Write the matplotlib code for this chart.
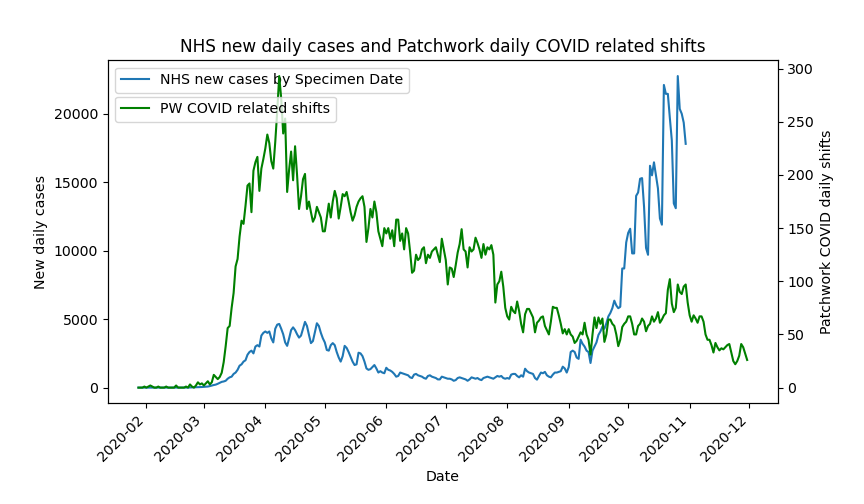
import matplotlib
matplotlib.use("Agg")
import matplotlib.pyplot as plt
import numpy as np
import pandas as pd

plt.rcParams["font.size"] = 10.15

# NHS new cases by specimen date, daily from 2020-01-28
nhs_start = "2020-01-28"
nhs_cases = (
    [0, 0, 2, 2]
    # Feb
    + [0, 1, 0, 2, 1, 0, 1, 2, 0, 1, 3, 2, 1, 5, 2, 3, 1, 2, 4, 3, 8, 5, 10, 12, 15, 20, 30, 40, 45]
    # Mar
    + [55, 60, 80, 110, 150, 190, 220, 280, 350, 420, 450, 500, 650, 750, 800, 1000, 1100, 1300,
       1600, 1700, 1900, 2000, 2400, 2600, 2700, 2500, 3000, 3100, 3000, 3800, 4000]
    # Apr
    + [4100, 4000, 4100, 3600, 3300, 4300, 4600, 4650, 4300, 3900, 3300, 3050, 3600, 4200, 4400,
       4200, 3900, 3650, 3800, 4300, 4800, 4500, 3850, 3250, 3400, 4050, 4700, 4500, 4000, 3600]
    # May
    + [3300, 2750, 2700, 3100, 3250, 3100, 2600, 2200, 1900, 2300, 3050, 2900, 2600, 2250, 1900,
       1650, 1700, 2550, 2500, 2300, 1900, 1400, 1300, 1350, 1500, 1650, 1400, 1100, 1200, 1100, 1050]
    # Jun
    + [1450, 1300, 1250, 1150, 1000, 800, 850, 1100, 1050, 1000, 950, 900, 750, 700, 950, 1000,
       900, 850, 800, 700, 650, 850, 900, 800, 750, 700, 600, 600, 800, 750]
    # Jul
    + [700, 650, 650, 600, 500, 550, 700, 750, 700, 650, 600, 500, 600, 750, 700, 650, 700, 600,
       550, 700, 750, 800, 750, 700, 650, 750, 850, 800, 850, 700, 650]
    # Aug
    + [700, 650, 950, 1000, 1000, 850, 750, 900, 800, 1380, 1200, 1100, 1050, 1000, 700, 580, 850,
       1100, 1050, 1150, 900, 800, 750, 950, 1100, 1100, 1150, 1200, 1530, 1400, 1100]
    # Sep
    + [1500, 2600, 2700, 2600, 2200, 2100, 3500, 3200, 3000, 2700, 2600, 1800, 2700, 3000, 3300,
       3850, 4100, 4450, 4300, 4700, 5200, 5450, 5800, 6350, 6000, 5800, 5900, 8700, 8700, 10600]
    # Oct
    + [11300, 11600, 9800, 9800, 14000, 14250, 15250, 15300, 13200, 10200, 9700, 16200, 15500,
       16450, 15500, 14550, 12350, 11900, 22100, 21450, 21450, 19700, 18050, 13450, 13100, 22750,
       20350, 20000, 19350, 17800]
)

# Patchwork COVID related shifts, daily from 2020-01-28
pw_start = "2020-01-28"
pw_shifts = (
    [0, 0, 0, 1]
    # Feb
    + [0, 1, 2, 1, 0, 0, 1, 0, 0, 0, 1, 0, 0, 0, 0, 2, 0, 0, 0, 0, 1, 0, 3, 1, 0, 2, 5, 3, 4]
    # Mar
    + [2, 4, 6, 3, 5, 12, 10, 8, 10, 14, 24, 39, 56, 58, 75, 89, 114, 121, 142, 157, 154, 171,
       190, 192, 165, 204, 212, 217, 185, 206, 215]
    # Apr
    + [225, 238, 230, 213, 206, 231, 260, 293, 272, 239, 253, 184, 205, 222, 195, 227, 200, 168,
       180, 196, 201, 168, 175, 165, 156, 160, 170, 165, 160, 147]
    # May
    + [147, 160, 173, 160, 175, 185, 178, 159, 170, 182, 180, 184, 175, 165, 157, 162, 170, 175,
       178, 180, 170, 137, 150, 168, 160, 175, 165, 147, 140, 133, 150]
    # Jun
    + [145, 150, 140, 148, 133, 158, 158, 138, 145, 130, 150, 145, 128, 108, 110, 125, 120, 122,
       130, 132, 117, 125, 122, 128, 130, 132, 125, 118, 140, 130]
    # Jul
    + [120, 97, 113, 112, 104, 115, 127, 135, 149, 130, 128, 113, 132, 128, 130, 141, 136, 130,
       122, 135, 125, 132, 130, 134, 125, 80, 97, 100, 109, 95, 75]
    # Aug
    + [67, 64, 76, 72, 70, 81, 72, 60, 52, 69, 74, 74, 70, 66, 52, 61, 63, 66, 67, 58, 54, 50,
       62, 76, 75, 75, 68, 60, 51, 55, 50]
    # Sep
    + [55, 50, 48, 42, 44, 48, 52, 50, 61, 50, 45, 31, 50, 66, 56, 66, 60, 65, 43, 50, 64, 64,
       60, 58, 50, 39, 45, 57, 60, 62]
    # Oct
    + [67, 67, 60, 50, 50, 58, 60, 65, 62, 53, 58, 60, 67, 62, 65, 71, 61, 64, 68, 70, 92, 102,
       79, 71, 75, 97, 90, 88, 95, 97, 80]
    # Nov
    + [68, 62, 68, 65, 61, 67, 67, 62, 50, 45, 45, 40, 33, 42, 38, 35, 37, 36, 38, 40, 41, 33,
       25, 22, 25, 30, 41, 38, 32, 26]
)

nhs_dates = pd.date_range(nhs_start, periods=len(nhs_cases), freq="D")
pw_dates = pd.date_range(pw_start, periods=len(pw_shifts), freq="D")

fig, ax1 = plt.subplots(figsize=(8.64, 5.04), dpi=100)
ax1.plot(nhs_dates, nhs_cases, label="NHS new cases by Specimen Date")
ax1.set_xlabel("Date")
ax1.set_ylabel("New daily cases")
ax1.legend(loc="upper left")

ax2 = ax1.twinx()
ax2.plot(pw_dates, pw_shifts, color="green", label="PW COVID related shifts")
ax2.set_ylabel("Patchwork COVID daily shifts")
ax2.legend(loc="upper left", bbox_to_anchor=(0, 0.915))

plt.title("NHS new daily cases and Patchwork daily COVID related shifts")
plt.setp(ax1.get_xticklabels(), rotation=45, ha="right")
fig.subplots_adjust(left=0.125, right=0.9, top=0.88, bottom=0.2)
fig.savefig("out.png", dpi=100)
